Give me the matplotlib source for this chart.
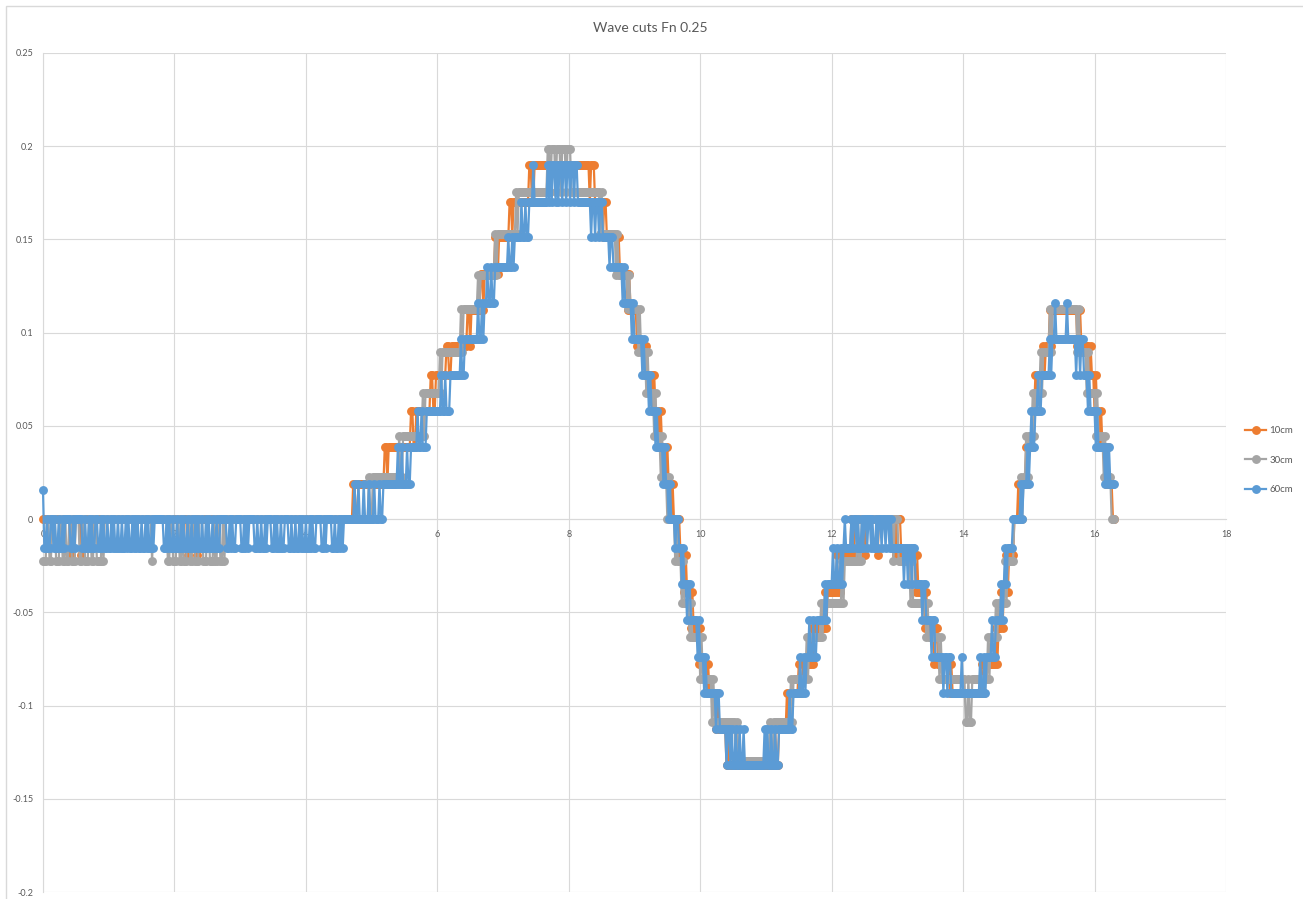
import numpy as np
import matplotlib
matplotlib.use("Agg")
import matplotlib.pyplot as plt
from matplotlib.patches import Rectangle
from matplotlib.lines import Line2D

plt.rcParams["font.family"] = ["Lato", "DejaVu Sans"]

# ---------------------------------------------------------------------------
# Data: quantised wave-probe records sampled every DT along x
# ---------------------------------------------------------------------------
DT = 0.02
X_END = 16.30

series_names = ["10cm", "30cm", "60cm"]
series_colors = ["#ED7D31", "#A5A5A5", "#5B9BD5"]

x_ticks = [0, 2, 4, 6, 8, 10, 12, 14, 16, 18]
y_ticks = [-0.2, -0.15, -0.1, -0.05, 0.0, 0.05, 0.1, 0.15, 0.2, 0.25]
y_tick_labels = ["-0.2", "-0.15", "-0.1", "-0.05", "0", "0.05", "0.1", "0.15", "0.2", "0.25"]

# quantisation levels of each probe (index -> elevation)
levels_10cm = {-7: -0.1319, -6: -0.1125, -5: -0.0930, -4: -0.0776, -3: -0.0585,
               -2: -0.0389, -1: -0.0192, 0: 0.0, 1: 0.0191, 2: 0.0385, 3: 0.0580,
               4: 0.0773, 5: 0.0928, 6: 0.1120, 7: 0.1315, 8: 0.1511, 9: 0.1703,
               10: 0.1900}
levels_30cm = {-6: -0.1297, -5: -0.1087, -4: -0.0855, -3: -0.0634, -2: -0.0452,
               -1: -0.0225, 0: 0.0, 1: 0.0226, 2: 0.0447, 3: 0.0675, 4: 0.0898,
               5: 0.1125, 6: 0.1310, 7: 0.1530, 8: 0.1756, 9: 0.1983}
levels_60cm = {"start": 0.0156, -7: -0.1319, -6: -0.1125, -5: -0.0930, -4: -0.0737,
               -3: -0.0543, -2: -0.0349, -1: -0.0156, 0: 0.0, 1: 0.0191, 2: 0.0385,
               3: 0.0580, 4: 0.0773, 5: 0.0966, 6: 0.1160, 7: 0.1354, 8: 0.1515,
               9: 0.1703, 10: 0.1900}

# level changes: (x where the new level starts, level index)
steps_10cm = [
    (0.00, 0), (0.42, -1), (0.44, 0), (0.58, -1), (0.60, 0),
    (2.20, -1), (2.22, 0), (2.34, -1), (2.36, 0),
    (4.72, 1), (4.76, 0), (4.80, 1),
    (5.20, 2), (5.24, 1), (5.26, 2),
    (5.60, 3), (5.64, 2), (5.68, 3),
    (5.90, 4), (5.94, 3), (5.98, 4),
    (6.14, 5), (6.18, 4), (6.22, 5),
    (6.46, 6), (6.50, 5), (6.52, 6),
    (6.66, 7), (6.70, 6), (6.72, 7),
    (6.88, 8), (6.92, 7), (6.94, 8),
    (7.10, 9), (7.14, 8), (7.16, 9),
    (7.40, 10), (7.44, 9), (7.48, 10),
    (8.32, 9), (8.34, 10), (8.40, 9),
    (8.52, 8), (8.54, 9), (8.58, 8),
    (8.74, 7), (8.76, 8), (8.78, 7),
    (8.90, 6), (8.92, 7), (8.94, 6),
    (9.04, 5), (9.06, 6), (9.08, 5),
    (9.16, 4), (9.18, 5), (9.20, 4),
    (9.28, 3), (9.30, 4), (9.32, 3),
    (9.38, 2), (9.40, 3), (9.42, 2),
    (9.48, 1), (9.50, 2), (9.52, 1),
    (9.56, 0), (9.58, 1), (9.60, 0),
    (9.66, -1), (9.68, 0), (9.70, -1),
    (9.76, -2), (9.78, -1), (9.80, -2),
    (9.86, -3), (9.88, -2), (9.90, -3),
    (9.98, -4), (10.00, -3), (10.02, -4),
    (10.10, -5), (10.12, -4), (10.14, -5),
    (10.24, -6), (10.26, -5), (10.28, -6),
    (10.40, -7), (10.44, -6), (10.46, -7), (10.56, -6), (10.58, -7),
    (11.14, -6), (11.16, -7), (11.20, -6),
    (11.32, -5), (11.34, -6), (11.36, -5),
    (11.50, -4), (11.52, -5), (11.56, -4),
    (11.70, -3), (11.72, -4), (11.74, -3),
    (11.90, -2), (11.92, -3), (11.94, -2),
    (12.08, -1), (12.10, -2), (12.14, -1),
    (12.30, 0), (12.32, -1), (12.36, 0), (12.50, -1), (12.52, 0), (12.70, -1), (12.72, 0),
    (12.98, -1), (13.00, 0), (13.06, -1),
    (13.28, -2), (13.30, -1), (13.32, -2),
    (13.42, -3), (13.44, -2), (13.46, -3),
    (13.56, -4), (13.58, -3), (13.62, -4),
    (13.80, -5), (13.82, -4), (13.84, -5),
    (14.28, -4), (14.30, -5), (14.34, -4),
    (14.50, -3), (14.52, -4), (14.54, -3),
    (14.58, -2), (14.60, -3), (14.62, -2),
    (14.66, -1), (14.68, -2), (14.70, -1),
    (14.78, 0),
    (14.84, 1), (14.86, 0), (14.88, 1),
    (14.96, 2), (14.98, 1), (15.00, 2),
    (15.06, 3), (15.10, 4), (15.12, 3), (15.14, 4),
    (15.22, 5), (15.24, 4), (15.26, 5),
    (15.32, 6), (15.34, 5), (15.36, 6),
    (15.74, 5), (15.76, 6), (15.80, 5),
    (15.92, 4), (15.94, 5), (15.96, 4),
    (16.00, 3), (16.02, 4), (16.04, 3),
    (16.08, 2), (16.10, 3), (16.12, 2),
    (16.18, 1), (16.20, 2), (16.22, 1),
    (16.28, 0),
]

steps_30cm = [
    (0.00, 0),
    (4.96, 1), (4.98, 0), (5.02, 1),
    (5.42, 2), (5.44, 1), (5.48, 2),
    (5.78, 3), (5.80, 2), (5.82, 3),
    (6.04, 4), (6.06, 3), (6.08, 4),
    (6.36, 5), (6.38, 4), (6.40, 5),
    (6.62, 6), (6.64, 5), (6.66, 6),
    (6.88, 7), (6.90, 6), (6.92, 7),
    (7.20, 8), (7.22, 7), (7.24, 8),
    (7.68, 9), (7.72, 8), (7.74, 9), (7.80, 8), (7.82, 9), (7.88, 8), (7.90, 9),
    (7.96, 8), (7.98, 9),
    (8.04, 8),
    (8.48, 7), (8.50, 8), (8.52, 7),
    (8.72, 6), (8.74, 7), (8.76, 6),
    (8.90, 5), (8.92, 6), (8.94, 5),
    (9.06, 4), (9.08, 5), (9.10, 4),
    (9.18, 3), (9.20, 4), (9.22, 3),
    (9.30, 2), (9.32, 3), (9.34, 2),
    (9.40, 1), (9.42, 2), (9.44, 1),
    (9.50, 0), (9.52, 1), (9.54, 0),
    (9.62, -1), (9.64, 0), (9.66, -1),
    (9.72, -2), (9.74, -1), (9.76, -2),
    (9.84, -3), (9.86, -2), (9.88, -3),
    (10.00, -4), (10.02, -3), (10.04, -4),
    (10.18, -5), (10.20, -4), (10.22, -5),
    (10.54, -6), (10.56, -5), (10.58, -6),
    (11.06, -5), (11.08, -6), (11.12, -5),
    (11.38, -4), (11.40, -5), (11.42, -4),
    (11.62, -3), (11.64, -4), (11.66, -3),
    (11.84, -2), (11.86, -3), (11.88, -2),
    (12.16, -1), (12.18, -2), (12.20, -1),
    (12.40, 0), (12.42, -1), (12.46, 0),
    (12.94, -1), (12.96, 0), (13.02, -1),
    (13.20, -2), (13.22, -1), (13.24, -2),
    (13.44, -3), (13.46, -2), (13.48, -3),
    (13.64, -4), (13.66, -3), (13.68, -4),
    (14.04, -5), (14.08, -4), (14.10, -5), (14.14, -4),
    (14.38, -3), (14.40, -4), (14.42, -3),
    (14.50, -2), (14.52, -3), (14.54, -2),
    (14.64, -1), (14.66, -2), (14.68, -1),
    (14.78, 0),
    (14.88, 1), (14.90, 0), (14.92, 1),
    (14.96, 2), (14.98, 1), (15.00, 2),
    (15.06, 3), (15.08, 2), (15.10, 3),
    (15.18, 4), (15.20, 3), (15.22, 4),
    (15.32, 5), (15.34, 4), (15.36, 5),
    (15.74, 4), (15.76, 5), (15.78, 4),
    (15.88, 3), (15.90, 4), (15.92, 3),
    (16.02, 2), (16.04, 3), (16.06, 2),
    (16.14, 1), (16.16, 2), (16.18, 1),
    (16.26, 0),
]

steps_60cm = [
    (0.00, "start"), (0.02, 0),
    (4.74, 1), (4.76, 0), (4.80, 1), (4.82, 0), (4.88, 1), (4.90, 0), (4.96, 1),
    (4.98, 0), (5.04, 1), (5.06, 0), (5.12, 1), (5.14, 0), (5.18, 1),
    (5.40, 2), (5.42, 1), (5.46, 2), (5.48, 1), (5.54, 2), (5.56, 1), (5.60, 2),
    (5.70, 3), (5.72, 2), (5.76, 3), (5.78, 2), (5.84, 3),
    (6.06, 4), (6.08, 3), (6.12, 4), (6.14, 3), (6.20, 4),
    (6.36, 5), (6.38, 4), (6.42, 5),
    (6.62, 6), (6.64, 5), (6.68, 6), (6.70, 5), (6.72, 6),
    (6.76, 7), (6.78, 6), (6.82, 7), (6.84, 6), (6.88, 7),
    (7.08, 8), (7.10, 7), (7.14, 8), (7.16, 7), (7.18, 8),
    (7.28, 9), (7.30, 8), (7.34, 9), (7.36, 8), (7.40, 9),
    (7.46, 10), (7.48, 9),
    (7.68, 10), (7.70, 9), (7.72, 10), (7.74, 9), (7.76, 10), (7.80, 9), (7.82, 10),
    (7.84, 9), (7.86, 10), (7.90, 9), (7.92, 10), (7.96, 9), (7.98, 10), (8.02, 9),
    (8.04, 10), (8.08, 9), (8.10, 10), (8.14, 9),
    (8.34, 8), (8.36, 9), (8.40, 8), (8.42, 9), (8.46, 8), (8.48, 9), (8.52, 8),
    (8.62, 7), (8.64, 8), (8.68, 7),
    (8.82, 6), (8.84, 7), (8.86, 6),
    (8.96, 5), (8.98, 6), (9.00, 5),
    (9.12, 4), (9.14, 5), (9.16, 4),
    (9.22, 3), (9.24, 4), (9.26, 3),
    (9.32, 2), (9.34, 3), (9.36, 2),
    (9.44, 1), (9.46, 2), (9.48, 1),
    (9.52, 0), (9.54, 1), (9.56, 0),
    (9.62, -1), (9.64, 0), (9.68, -1),
    (9.72, -2), (9.74, -1), (9.76, -2),
    (9.80, -3), (9.82, -2), (9.86, -3),
    (9.96, -4), (9.98, -3), (10.00, -4),
    (10.06, -5), (10.08, -4), (10.10, -5),
    (10.24, -6), (10.26, -5), (10.30, -6),
    (10.40, -7), (10.42, -6), (10.46, -7), (10.48, -6), (10.50, -7), (10.54, -6),
    (10.56, -7), (10.60, -6), (10.62, -7), (10.66, -6), (10.68, -7),
    (10.98, -6), (11.00, -7), (11.02, -6), (11.04, -7), (11.08, -6), (11.10, -7),
    (11.14, -6), (11.16, -7), (11.20, -6),
    (11.36, -5), (11.38, -6), (11.42, -5),
    (11.52, -4), (11.54, -5), (11.58, -4), (11.60, -5), (11.62, -4),
    (11.66, -3), (11.68, -4), (11.72, -3), (11.74, -4), (11.78, -3),
    (11.90, -2), (11.92, -3), (11.94, -2),
    (12.02, -1), (12.04, -2), (12.08, -1), (12.10, -2), (12.14, -1), (12.16, -2),
    (12.18, -1), (12.20, 0), (12.22, -1),
    (12.30, 0), (12.32, -1), (12.34, 0), (12.38, -1), (12.40, 0), (12.42, -1),
    (12.46, 0), (12.48, -1), (12.50, 0), (12.54, -1), (12.56, 0), (12.60, -1),
    (12.62, 0), (12.64, -1), (12.68, 0), (12.70, -1), (12.72, 0), (12.76, -1),
    (12.78, 0), (12.82, -1), (12.84, 0), (12.88, -1), (12.90, 0), (12.92, -1),
    (13.10, -2), (13.12, -1), (13.16, -2), (13.18, -1), (13.22, -2), (13.24, -1),
    (13.28, -2),
    (13.38, -3), (13.40, -2), (13.44, -3),
    (13.52, -4), (13.54, -3), (13.58, -4),
    (13.70, -5), (13.72, -4), (13.76, -5), (13.78, -4), (13.82, -5),
    (13.98, -4), (14.00, -5),
    (14.26, -4), (14.28, -5), (14.32, -4), (14.34, -5), (14.36, -4),
    (14.44, -3), (14.46, -4), (14.50, -3),
    (14.58, -2), (14.60, -3), (14.62, -2),
    (14.64, -1), (14.66, -2), (14.68, -1),
    (14.76, 0),
    (14.88, 1), (14.90, 0), (14.92, 1),
    (14.98, 2), (15.00, 1), (15.02, 2),
    (15.04, 3), (15.06, 2), (15.10, 3),
    (15.14, 4), (15.16, 3), (15.20, 4),
    (15.32, 5), (15.34, 4), (15.36, 5),
    (15.40, 6), (15.42, 5),
    (15.58, 6), (15.60, 5),
    (15.72, 4), (15.74, 5), (15.78, 4), (15.80, 5), (15.84, 4),
    (15.90, 3), (15.92, 4), (15.94, 3),
    (16.02, 2), (16.04, 3), (16.06, 2),
    (16.16, 1), (16.18, 2), (16.20, 1), (16.22, 2), (16.24, 1),
]

# still-water flicker between level 0 ("0") and level -1 ("1"), one char per sample
noise_30cm = [
    (0.00, "1110011000" "1110011011" "0011100011" "0011100110" "0111101"),
    (1.66, "1"),
    (1.90, "1100111001" "1011100110" "0111000111" "0011101100" "1101"),
]
noise_60cm = [
    (0.02, "1101100101" "1011010000" "1101000001" "1011010110" "0110101101"
           "1010110110" "1101011010" "1011011010" "1101000000" "0110101101"
           "1011010110" "1101101011" "0110101101" "1011000001" "1010110000"
           "1101010000" "1101101101" "0001101011" "0110001101" "1011010110"
           "1101011000" "0110100001" "10110101"),
]


def build_series(steps, levels, noise=()):
    n = int(round(X_END / DT)) + 1
    x = np.arange(n) * DT
    steps = sorted(steps, key=lambda s: s[0])
    starts = [int(round(s[0] / DT)) for s in steps] + [n]
    y = np.zeros(n)
    for (_, key), i0, i1 in zip(steps, starts[:-1], starts[1:]):
        y[i0:i1] = levels[key]
    for x0, pattern in noise:
        i0 = int(round(x0 / DT))
        for j, ch in enumerate(pattern):
            y[i0 + j] = levels[-1] if ch == "1" else levels[0]
    return x, y


data = [
    build_series(steps_10cm, levels_10cm),
    build_series(steps_30cm, levels_30cm, noise_30cm),
    build_series(steps_60cm, levels_60cm, noise_60cm),
]

# ---------------------------------------------------------------------------
# Figure
# ---------------------------------------------------------------------------
W, H = 1303, 899
fig = plt.figure(figsize=(W / 100, H / 100), dpi=100)
fig.patch.set_facecolor("white")

# chart-area border
fig.add_artist(Rectangle((6 / W, -0.02), 1.2, 1 - 6 / H + 0.02,
                         transform=fig.transFigure, fill=False,
                         edgecolor="#D9D9D9", linewidth=1.0))

ax = fig.add_axes([43 / W, 7 / H, (1226 - 43) / W, (892 - 53) / H])
ax.set_facecolor("none")

MS = 6.4
LW = 1.6
for name, color, (x, y) in zip(series_names, series_colors, data):
    ax.plot(x, y, color=color, linewidth=LW, marker="o", markersize=MS,
            markeredgewidth=0, label=name, clip_on=False, zorder=3)

ax.set_xlim(0, 18)
ax.set_ylim(-0.2, 0.25)
ax.set_xticks(x_ticks)
ax.set_xticklabels([str(v) for v in x_ticks])
ax.set_yticks(y_ticks)
ax.set_yticklabels(y_tick_labels)

ax.grid(True, color="#D9D9D9", linewidth=0.8)
ax.set_axisbelow(True)
for side in ("top", "right"):
    ax.spines[side].set_visible(False)
ax.spines["left"].set_color("#D9D9D9")
ax.spines["left"].set_linewidth(0.8)
ax.spines["bottom"].set_position(("data", 0))
ax.spines["bottom"].set_color("#D9D9D9")
ax.spines["bottom"].set_linewidth(0.8)
ax.tick_params(axis="both", length=0, labelsize=6.5, labelcolor="#595959")
ax.tick_params(axis="x", pad=8)
ax.tick_params(axis="y", pad=7)

fig.text(650 / W, 1 - 28 / H, "Wave cuts Fn 0.25", ha="center", va="center",
         fontsize=10, color="#595959")

handles = [Line2D([], [], color=c, linewidth=LW, marker="o", markersize=MS,
                  markeredgewidth=0) for c in series_colors]
fig.legend(handles, series_names, loc="center left",
           bbox_to_anchor=(1245 / W, 1 - 460 / H), frameon=False,
           fontsize=7, labelcolor="#595959", labelspacing=2.1,
           handlelength=2.2, handletextpad=0.3, numpoints=1,
           borderaxespad=0, borderpad=0)

fig.savefig("out.png", dpi=100, facecolor="white")
